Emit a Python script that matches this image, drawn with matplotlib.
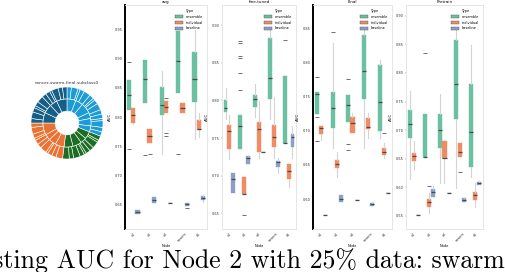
import matplotlib
matplotlib.use("Agg")
import matplotlib.pyplot as plt
from matplotlib.patches import Patch
import numpy as np

W, H = 506, 272

# ---- data -------------------------------------------------------------
CATEGORIES = ["n1", "n2", "n3", "swarm", "n5"]
HUES = ["ensemble", "individual", "baseline"]
HUE_COLORS = ["#6cc0a2", "#f08c64", "#8d9fc9"]
PANEL_TITLES = ["avg", "fine-tuned", "Final", "Pretrain"]

# y tick values for each panel
P1_TICKS = [0.95, 0.90, 0.85, 0.80, 0.75, 0.70, 0.65]
P2_TICKS = [0.90, 0.85, 0.80, 0.75, 0.70, 0.65]
P3_TICKS = [0.85, 0.80, 0.75, 0.70, 0.65, 0.60]
P4_TICKS = [0.90, 0.85, 0.80, 0.75, 0.70, 0.65, 0.60, 0.55]
P_YLIMS = [(0.609, 0.991), (0.629, 0.927), (0.556, 0.885), (0.527, 0.919)]

# box stats per category: (whislo, q1, med, q3, whishi)
P1_GREEN = [(0.812, 0.812, 0.837, 0.863, 0.863), (0.824, 0.824, 0.865, 0.897, 0.897),
            (0.737, 0.803, 0.820, 0.851, 0.878), (0.841, 0.841, 0.895, 0.947, 0.947),
            (0.762, 0.826, 0.865, 0.911, 0.948)]
P1_ORANGE = [(0.788, 0.790, 0.803, 0.815, 0.815), (0.756, 0.756, 0.768, 0.779, 0.779),
             (0.807, 0.807, 0.817, 0.827, 0.827), (0.807, 0.807, 0.815, 0.824, 0.824),
             (0.766, 0.778, 0.779, 0.795, 0.807)]
P1_BLUE = [(0.635, 0.635, 0.638, 0.641, 0.641), (0.653, 0.653, 0.658, 0.664, 0.664),
           (0.653, 0.653, 0.653, 0.653, 0.653), (0.648, 0.648, 0.652, 0.653, 0.653),
           (0.655, 0.658, 0.662, 0.665, 0.667)]
P1_FLIERS = [[[0.894, 0.745], [], []], [[0.735], [0.737], []],
             [[], [0.832, 0.773, 0.768], []], [[0.737], [], [0.645]], [[], [], []]]

P2_GREEN = [(0.775, 0.784, 0.790, 0.800, 0.816), (0.735, 0.736, 0.766, 0.780, 0.780),
            (0.778, 0.791, 0.802, 0.807, 0.822), (0.775, 0.802, 0.830, 0.883, 0.896),
            (0.743, 0.743, 0.743, 0.832, 0.832)]
P2_ORANGE = [(0.722, 0.736, 0.760, 0.767, 0.780), (0.675, 0.675, 0.675, 0.698, 0.698),
             (0.723, 0.731, 0.762, 0.772, 0.799), (0.723, 0.738, 0.752, 0.768, 0.804),
             (0.685, 0.695, 0.706, 0.716, 0.716)]
P2_BLUE = [(0.677, 0.677, 0.695, 0.703, 0.703), (0.716, 0.716, 0.723, 0.726, 0.728),
           (0.731, 0.731, 0.731, 0.731, 0.731), (0.703, 0.711, 0.718, 0.720, 0.724),
           (0.724, 0.738, 0.751, 0.755, 0.766)]
P2_FLIERS = [[[], [], []], [[0.879, 0.877, 0.859, 0.857, 0.837, 0.814], [0.647], []],
             [[], [], []], [[], [], []], [[0.880], [], []]]

P3_GREEN = [(0.725, 0.725, 0.755, 0.757, 0.757), (0.675, 0.704, 0.734, 0.757, 0.829),
            (0.713, 0.713, 0.738, 0.753, 0.753), (0.675, 0.747, 0.788, 0.841, 0.849),
            (0.690, 0.700, 0.743, 0.797, 0.804)]
P3_ORANGE = [(0.687, 0.696, 0.704, 0.707, 0.707), (0.632, 0.646, 0.651, 0.657, 0.669),
             (0.697, 0.697, 0.712, 0.721, 0.726), (0.690, 0.703, 0.706, 0.719, 0.726),
             (0.660, 0.665, 0.669, 0.675, 0.682)]
P3_BLUE = [(0.576, 0.576, 0.576, 0.576, 0.576), (0.596, 0.596, 0.600, 0.606, 0.606),
           (0.598, 0.598, 0.598, 0.598, 0.598), (0.590, 0.590, 0.593, 0.594, 0.596),
           (0.609, 0.609, 0.609, 0.609, 0.609)]
P3_FLIERS = [[[0.779, 0.721, 0.685], [], []], [[0.846], [], []],
             [[0.776, 0.681, 0.672], [], []], [[], [], []], [[], [0.697], []]]

P4_GREEN = [(0.615, 0.687, 0.711, 0.736, 0.769), (0.653, 0.653, 0.653, 0.729, 0.729),
            (0.608, 0.669, 0.701, 0.729, 0.764), (0.599, 0.720, 0.781, 0.858, 0.879),
            (0.618, 0.636, 0.697, 0.781, 0.849)]
P4_ORANGE = [(0.632, 0.646, 0.655, 0.660, 0.681), (0.555, 0.566, 0.575, 0.580, 0.590),
             (0.608, 0.652, 0.652, 0.681, 0.681), (0.653, 0.653, 0.662, 0.678, 0.678),
             (0.566, 0.578, 0.587, 0.592, 0.608)]
P4_BLUE = [(0.552, 0.552, 0.552, 0.552, 0.552), (0.583, 0.583, 0.592, 0.597, 0.602),
           (0.590, 0.590, 0.590, 0.590, 0.590), (0.575, 0.575, 0.578, 0.582, 0.583),
           (0.604, 0.604, 0.608, 0.610, 0.611)]
P4_FLIERS = [[[], [], []], [[0.835], [0.602], []], [[], [], []],
             [[], [0.627], []], [[], [], []]]

# sunburst: group shares (clockwise from top) and sub shares
DONUT_TITLE = "cancer-swarm-final-subclass0"
GROUP_COLORS = ["#1d9bd7", "#1b6e24", "#ec7233", "#155f87"]
GROUP_SHARES = [31, 21, 23, 25]
INNER_SUBS = [[6, 5, 7, 4, 5, 4], [5, 4, 6, 6], [6, 5, 4, 8], [7, 6, 5, 7]]
OUTER_SUBS = [[2, 3, 1, 2, 3, 2, 1, 2, 3, 2, 2, 1, 3, 2, 2],
              [2, 1, 3, 2, 2, 1, 2, 3, 2, 3],
              [3, 2, 2, 1, 3, 2, 2, 1, 2, 3, 2],
              [2, 3, 2, 1, 2, 3, 2, 2, 1, 3, 2, 2]]

CAPTION = "Testing AUC for Node 2 with 25% data: swarm"

panels = [
    (P1_GREEN, P1_ORANGE, P1_BLUE, P1_FLIERS, P1_TICKS),
    (P2_GREEN, P2_ORANGE, P2_BLUE, P2_FLIERS, P2_TICKS),
    (P3_GREEN, P3_ORANGE, P3_BLUE, P3_FLIERS, P3_TICKS),
    (P4_GREEN, P4_ORANGE, P4_BLUE, P4_FLIERS, P4_TICKS),
]
# pixel boxes (left, top, right, bottom)
panel_boxes = [(125, 5, 207, 229), (222, 5, 296, 229), (313, 5, 392, 229), (406, 5, 483, 229)]
black_spine = [True, False, True, False]


def px_axes(fig, box):
    l, t, r, b = box
    return fig.add_axes([l / W, 1 - b / H, (r - l) / W, (b - t) / H])


fig = plt.figure(figsize=(W / 100, H / 100), dpi=100)

offsets = [-0.26, 0.0, 0.26]
for k, (green, orange, blue, fliers, ticks) in enumerate(panels):
    ax = px_axes(fig, panel_boxes[k])
    for h, series in enumerate([green, orange, blue]):
        stats = []
        for c, (lo, q1, med, q3, hi) in enumerate(series):
            stats.append(dict(whislo=lo, q1=q1, med=med, q3=q3, whishi=hi,
                              fliers=fliers[c][h]))
        pos = np.arange(len(series)) + offsets[h]
        ax.bxp(stats, positions=pos, widths=0.26, patch_artist=True,
               showcaps=False,
               boxprops=dict(facecolor=HUE_COLORS[h], edgecolor=HUE_COLORS[h], linewidth=0.3),
               medianprops=dict(color="#4a4a4a", linewidth=0.9),
               whiskerprops=dict(color="#d4d4d4", linewidth=0.8),
               flierprops=dict(marker="_", markersize=2.5, markeredgecolor="#555555",
                               markeredgewidth=0.6))
    ax.set_xlim(-0.5, len(CATEGORIES) - 0.5)
    ax.set_ylim(*P_YLIMS[k])
    ax.set_xticks(np.arange(len(CATEGORIES)))
    ax.set_xticklabels(CATEGORIES, rotation=45, fontsize=2.5, color="#333333")
    ax.set_yticks(ticks)
    ax.set_yticklabels([f"{t:.2f}" for t in ticks], fontsize=2.5, color="#333333")
    ax.tick_params(length=1, width=0.3, pad=1, colors="#777777", labelcolor="#333333")
    ax.set_ylabel("AUC", fontsize=2.8, labelpad=2)
    ax.set_xlabel("Node", fontsize=2.5, labelpad=1)
    ax.set_title(PANEL_TITLES[k], fontsize=3, pad=1.5)
    for s in ax.spines.values():
        s.set_color("#e2e2e2")
        s.set_linewidth(0.6)
    if black_spine[k]:
        ax.spines["left"].set_color("black")
        ax.spines["left"].set_linewidth(1.4)
    handles = [Patch(facecolor=c, edgecolor="#555555", linewidth=0.3) for c in HUE_COLORS]
    ax.legend(handles, HUES, title="Type", loc="upper right", fontsize=2.5,
              title_fontsize=2.5, frameon=False, handlelength=2.2, handleheight=0.9,
              borderaxespad=0.8, labelspacing=0.5)

# sunburst donut
dax = px_axes(fig, (31, 87, 103, 159))
inner_vals = [v * GROUP_SHARES[g] / sum(INNER_SUBS[g]) for g in range(4) for v in INNER_SUBS[g]]
inner_cols = [GROUP_COLORS[g] for g in range(4) for _ in INNER_SUBS[g]]
outer_vals = [v * GROUP_SHARES[g] / sum(OUTER_SUBS[g]) for g in range(4) for v in OUTER_SUBS[g]]
outer_cols = [GROUP_COLORS[g] for g in range(4) for _ in OUTER_SUBS[g]]
dax.pie(inner_vals, colors=inner_cols, radius=0.67, startangle=90, counterclock=False,
        wedgeprops=dict(width=0.34, edgecolor="white", linewidth=0.4))
dax.pie(outer_vals, colors=outer_cols, radius=1.0, startangle=90, counterclock=False,
        wedgeprops=dict(width=0.33, edgecolor="white", linewidth=0.4))
dax.set_xlim(-1, 1)
dax.set_ylim(-1, 1)
dax.set_aspect("equal")
dax.set_title(DONUT_TITLE, fontsize=3.2, pad=2, color="#333333")

# caption runs past the left edge, as in the reference
fig.text(505 / W, 1 - 268 / H, CAPTION, ha="right", va="baseline",
         family="cmr10", fontsize=18.6)

fig.savefig("out.png", dpi=100)
